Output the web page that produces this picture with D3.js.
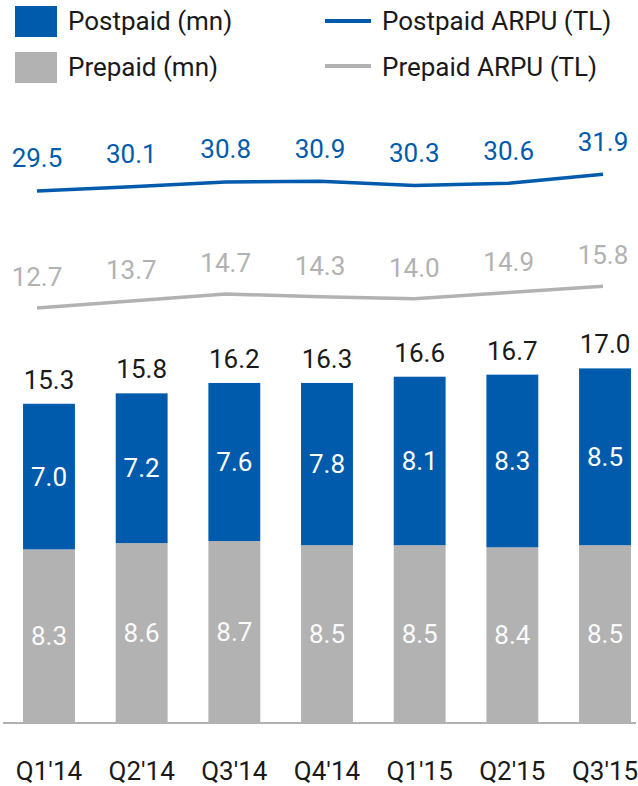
<!DOCTYPE html>
<html>
<head>
<meta charset="utf-8">
<script src="https://cdn.jsdelivr.net/npm/d3@7"></script>
<style>
  html, body { margin: 0; padding: 0; background: #fff; }
  svg { display: block; font-family: Roboto, "Noto Sans", sans-serif; }
</style>
</head>
<body>
<svg id="chart" width="638" height="786"></svg>
<script>
const categories = ["Q1'14", "Q2'14", "Q3'14", "Q4'14", "Q1'15", "Q2'15", "Q3'15"];
const postpaid = [7.0, 7.2, 7.6, 7.8, 8.1, 8.3, 8.5];
const prepaid = [8.3, 8.6, 8.7, 8.5, 8.5, 8.4, 8.5];
const totals = [15.3, 15.8, 16.2, 16.3, 16.6, 16.7, 17.0];
const postpaidArpu = [29.5, 30.1, 30.8, 30.9, 30.3, 30.6, 31.9];
const prepaidArpu = [12.7, 13.7, 14.7, 14.3, 14.0, 14.9, 15.8];

const BLUE = "#005BAC";
const GRAY = "#b2b2b2";
const TEXT = "#1a1a1a";

const svg = d3.select("#chart");

const x = d3.scaleBand().domain(categories).range([4.5, 649.5])
  .paddingInner(0.44).paddingOuter(0.2);
const y = d3.scaleLinear().domain([0, 20]).range([722, 306]);
const xl = d3.scalePoint().domain(categories).range([37, 603]);
const ya = d3.scaleLinear().domain([0, 40]).range([396.3, 117.9]);

// bars
const rows = categories.map((c, i) => ({c, pre: prepaid[i], post: postpaid[i], total: totals[i]}));
const g = svg.append("g");
g.selectAll("rect.pre").data(rows).join("rect").attr("class", "pre")
  .attr("x", d => x(d.c)).attr("width", x.bandwidth())
  .attr("y", d => y(d.pre)).attr("height", d => y(0) - y(d.pre))
  .attr("fill", GRAY);
g.selectAll("rect.post").data(rows).join("rect").attr("class", "post")
  .attr("x", d => x(d.c)).attr("width", x.bandwidth())
  .attr("y", d => y(d.pre + d.post)).attr("height", d => y(d.pre) - y(d.pre + d.post))
  .attr("fill", BLUE);

// labels in bars
g.selectAll("text.pre").data(rows).join("text").attr("class", "pre")
  .attr("x", d => x(d.c) + x.bandwidth() / 2)
  .attr("y", d => (y(0) + y(d.pre)) / 2)
  .attr("dy", "0.35em").attr("text-anchor", "middle")
  .attr("font-size", 26).attr("fill", "#fafafa")
  .text(d => d.pre.toFixed(1));
g.selectAll("text.post").data(rows).join("text").attr("class", "post")
  .attr("x", d => x(d.c) + x.bandwidth() / 2)
  .attr("y", d => (y(d.pre) + y(d.pre + d.post)) / 2)
  .attr("dy", "0.35em").attr("text-anchor", "middle")
  .attr("font-size", 26).attr("fill", "#fff")
  .text(d => d.post.toFixed(1));
g.selectAll("text.tot").data(rows).join("text").attr("class", "tot")
  .attr("x", d => x(d.c) + x.bandwidth() / 2)
  .attr("y", d => y(d.pre + d.post) - 15)
  .attr("text-anchor", "middle")
  .attr("font-size", 26).attr("fill", TEXT)
  .text(d => d.total.toFixed(1));

// axis
const axis = d3.axisBottom(x).tickSize(0).tickPadding(0);
const ax = svg.append("g").attr("transform", "translate(0,723)").call(axis);
ax.select(".domain").attr("d", "M3,0H636").attr("stroke", GRAY).attr("stroke-width", 2);
ax.selectAll(".tick text").attr("y", 57).attr("dy", null)
  .attr("font-size", 26).attr("font-family", "Roboto, sans-serif").attr("fill", TEXT);

// ARPU lines
const line = d3.line().x((d, i) => xl(categories[i])).y(d => ya(d));
svg.append("path").datum(postpaidArpu).attr("d", line)
  .attr("fill", "none").attr("stroke", BLUE).attr("stroke-width", 3.5);
svg.append("path").datum(prepaidArpu).attr("d", line)
  .attr("fill", "none").attr("stroke", GRAY).attr("stroke-width", 3.5);
svg.selectAll("text.pa").data(postpaidArpu).join("text").attr("class", "pa")
  .attr("x", (d, i) => xl(categories[i])).attr("y", d => ya(d) - 23.5)
  .attr("text-anchor", "middle").attr("font-size", 26).attr("fill", BLUE)
  .text(d => d.toFixed(1));
svg.selectAll("text.pr").data(prepaidArpu).join("text").attr("class", "pr")
  .attr("x", (d, i) => xl(categories[i])).attr("y", d => ya(d) - 22)
  .attr("text-anchor", "middle").attr("font-size", 26).attr("fill", GRAY)
  .text(d => d.toFixed(1));

// legend
const leg = svg.append("g");
leg.append("rect").attr("x", 15).attr("y", 6).attr("width", 42).attr("height", 31).attr("fill", BLUE);
leg.append("rect").attr("x", 15).attr("y", 52).attr("width", 42).attr("height", 31).attr("fill", GRAY);
leg.append("text").attr("x", 68).attr("y", 30).attr("font-size", 26).attr("fill", TEXT).text("Postpaid (mn)");
leg.append("text").attr("x", 68).attr("y", 76).attr("font-size", 26).attr("fill", TEXT).text("Prepaid (mn)");
leg.append("line").attr("x1", 325).attr("x2", 371).attr("y1", 21).attr("y2", 21).attr("stroke", BLUE).attr("stroke-width", 4);
leg.append("line").attr("x1", 325).attr("x2", 371).attr("y1", 66).attr("y2", 66).attr("stroke", GRAY).attr("stroke-width", 4);
leg.append("text").attr("x", 382).attr("y", 30).attr("font-size", 26).attr("fill", TEXT).text("Postpaid ARPU (TL)");
leg.append("text").attr("x", 382).attr("y", 76).attr("font-size", 26).attr("fill", TEXT).text("Prepaid ARPU (TL)");
</script>
</body>
</html>
